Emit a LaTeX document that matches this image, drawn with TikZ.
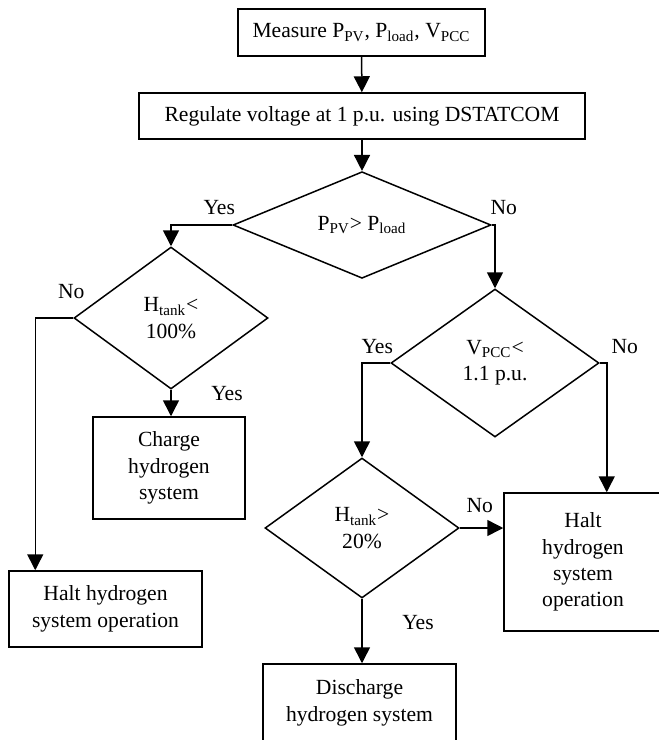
\documentclass[tikz,border=0pt]{standalone}
\usepackage{fontspec}
\setmainfont{Liberation Serif}
\usetikzlibrary{arrows.meta, positioning, shapes.geometric}
\tikzset{
  arrowK/.style={-{Triangle[length=8pt, width=8pt]}, line width=0.75pt},
  boxK/.style={rectangle, draw, line width=0.75pt, align=center, inner sep=2pt},
  decK/.style={diamond, draw, line width=0.75pt, align=center, inner sep=0pt},
  lbl/.style={inner sep=0pt},
}

\begin{document}
\begin{tikzpicture}[x=0.5pt, y=-0.5pt, font=\fontsize{10.8}{13.2}\selectfont]
    \useasboundingbox (0,0) rectangle (659,740);
    \node[boxK, minimum width=123.5pt, minimum height=23.5pt]
          (meas) at (361.5,32.5) {Measure P\textsubscript{PV}, P\textsubscript{load}, V\textsubscript{PCC}};
    \node[boxK, minimum width=223pt, minimum height=23pt]
          (reg) at (362,116) {Regulate voltage at 1 p.u. using DSTATCOM};
    \node[decK, minimum width=129pt, minimum height=48pt]
          (pcmp) at (362,225) {P\textsubscript{PV}> P\textsubscript{load}};
    \node[decK, minimum width=97pt, minimum height=71pt]
          (hfull) at (171,318) {H\textsubscript{tank}<\\100\%};
    \node[boxK, minimum width=76pt, minimum height=51pt]
          (charge) at (169,468) {Charge\\hydrogen\\system};
    \node[boxK, minimum width=96.5pt, minimum height=38pt]
          (haltL) at (105.5,609) {Halt hydrogen\\system operation};
    \node[decK, minimum width=104pt, minimum height=74pt]
          (vpcc) at (495,363) {V\textsubscript{PCC}<\\1.1 p.u.};
    \node[decK, minimum width=97pt, minimum height=70pt]
          (hlow) at (362,528) {H\textsubscript{tank}>\\20\%};
    \node[boxK, minimum width=79pt, minimum height=69pt]
          (haltR) at (583,562) {Halt\\hydrogen\\system\\operation};
    \node[boxK, minimum width=96.5pt, minimum height=39pt]
          (dis) at (359.5,703) {Discharge\\hydrogen system};
    % branch labels
    \node[lbl] (yesA) at ([shift={(-13,-17)}]pcmp.west) {Yes};
    \node[lbl] (noA) at ([shift={(12,-17)}]pcmp.east) {No};
    \node[lbl] (noB) at ([shift={(-2,-26)}]hfull.west) {No};
    \node[lbl] (yesB) at ([shift={(56,4)}]hfull.south) {Yes};
    \node[lbl] (yesC) at ([shift={(-13,-16)}]vpcc.west) {Yes};
    \node[lbl] (noC) at ([shift={(25,-16)}]vpcc.east) {No};
    \node[lbl] (noD) at ([shift={(20,-22)}]hlow.east) {No};
    \node[lbl] (yesD) at ([shift={(56,24)}]hlow.south) {Yes};
    \coordinate (bendL) at ([shift={(-38,0)}]hfull.west);
    \coordinate (bendR) at ([shift={(7,0)}]vpcc.east);
    % connectors
    \draw[arrowK] (meas) -- (reg);
    \draw[arrowK] (reg) -- (pcmp);
    \draw[arrowK] (pcmp.west) -| (hfull.north);
    \draw[arrowK] (pcmp.east) -| (vpcc.north);
    \draw[arrowK] (hfull.west) -- (bendL) -- (bendL |- haltL.north);
    \draw[arrowK] (hfull.south) -- (hfull.south |- charge.north);
    \draw[arrowK] (vpcc.west) -| (hlow.north);
    \draw[arrowK] (vpcc.east) -- (bendR) -- (bendR |- haltR.north);
    \draw[arrowK] (hlow.east) -- (hlow.east -| haltR.west);
    \draw[arrowK] (hlow.south) -- (hlow.south |- dis.north);
\end{tikzpicture}
\end{document}
